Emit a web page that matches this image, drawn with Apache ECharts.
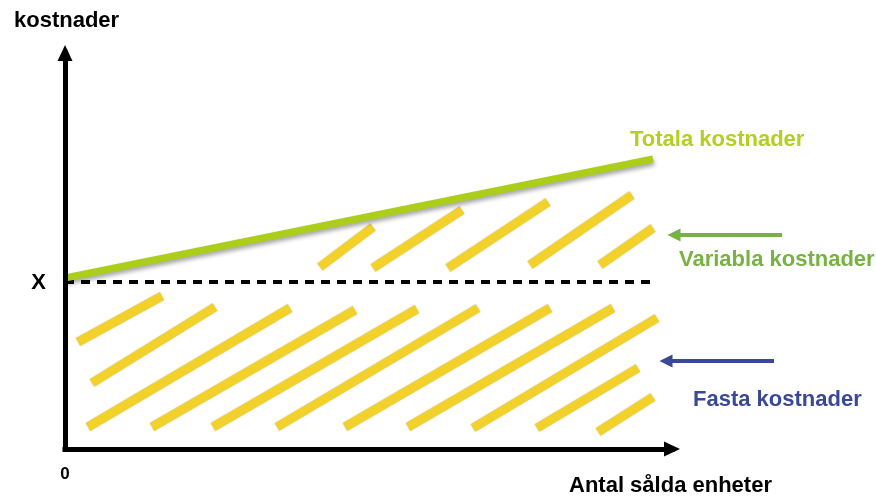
<!DOCTYPE html>
<html>
<head>
<meta charset="utf-8">
<script src="https://cdn.jsdelivr.net/npm/echarts@6/dist/echarts.min.js"></script>
<style>
html,body{margin:0;padding:0;background:#fff;}
#chart{width:876px;height:497px;}
</style>
</head>
<body>
<div id="chart"></div>
<script>
// Axis ranges (conceptual units)
const xRange = [0, 607];
const yRange = [0, 396];

// Fixed cost level (dashed line "X")
const fixedLevel = [[0, 167], [587, 167]];
// Total cost line
const totalLine = [[0, 171], [588, 290]];

// Hatch strokes below the fixed level (fasta kostnader)
const hatchFixed = [
  [[13, 107], [97, 153]],
  [[27, 66], [150, 142]],
  [[23, 22], [225, 141]],
  [[87, 22], [290, 139]],
  [[148, 22], [352, 140]],
  [[212, 22], [413, 141]],
  [[280, 22], [485, 141]],
  [[343, 22], [548, 141]],
  [[408, 21], [592, 131]],
  [[472, 21], [573, 81]],
  [[533, 17], [588, 52]]
];
// Hatch strokes between fixed level and total line (variabla kostnader)
const hatchVariable = [
  [[255, 182], [308, 222]],
  [[308, 181], [397, 239]],
  [[383, 181], [483, 247]],
  [[465, 184], [567, 254]],
  [[535, 184], [588, 221]]
];

// Pointer arrows [tail, head]
const variableArrow = [[717, 214], [609, 214]];
const fixedArrow = [[709, 88], [601, 88]];

// Text labels and their anchor points
const labelTexts = ['kostnader', 'Antal sålda enheter', 'Totala kostnader', 'Variabla kostnader', 'Fasta kostnader', 'X', '0'];
const labelAnchors = [[-51, 428], [504, -37], [565, 309], [614, 189], [628, 49], [-19, 166], [0, -25]];

const YELLOW = '#F2D12B';
const LIME = '#ADCD1B';
const LIME_TEXT = '#B2D020';
const GREEN = '#77B243';
const BLUE = '#3A4898';
const FONT = '"Liberation Sans", Arial, sans-serif';

const labelStyles = [
  {color: '#000', pos: 'right'},
  {color: '#000', pos: 'right'},
  {color: LIME_TEXT, pos: 'right'},
  {color: GREEN, pos: 'right'},
  {color: BLUE, pos: 'right'},
  {color: '#000', pos: 'left', size: 22},
  {color: '#000', pos: 'inside', size: 17}
];

function hatchSeries(list, name) {
  return {
    type: 'lines',
    name: name,
    coordinateSystem: 'cartesian2d',
    clip: false,
    silent: true,
    symbol: 'none',
    lineStyle: {color: YELLOW, width: 9, opacity: 1, cap: 'butt', shadowColor: 'rgba(140,130,90,0.45)', shadowBlur: 1.5},
    data: list.map(c => ({coords: c})),
    z: 2
  };
}

function arrowSeries(pts, color) {
  return {
    type: 'lines',
    coordinateSystem: 'cartesian2d',
    clip: false,
    silent: true,
    symbol: ['none', 'triangle'],
    symbolSize: 13,
    lineStyle: {color: color, width: 4, opacity: 1, curveness: 0},
    itemStyle: {color: color},
    data: [{coords: pts}],
    z: 4
  };
}

const chart = echarts.init(document.getElementById('chart'), null, {renderer: 'canvas'});
chart.setOption({
  animation: false,
  backgroundColor: '#fff',
  grid: {left: 65, right: 204, top: 53, bottom: 48, containLabel: false},
  xAxis: {
    type: 'value', min: xRange[0], max: xRange[1],
    splitLine: {show: false}, axisTick: {show: false}, axisLabel: {show: false},
    axisLine: {show: true, onZero: false, symbol: ['none', 'triangle'], symbolSize: [15, 16],
      lineStyle: {color: '#000', width: 5, cap: 'square'}},
    z: 10
  },
  yAxis: {
    type: 'value', min: yRange[0], max: yRange[1],
    splitLine: {show: false}, axisTick: {show: false}, axisLabel: {show: false},
    axisLine: {show: true, onZero: false, symbol: ['none', 'triangle'], symbolSize: [15, 16],
      lineStyle: {color: '#000', width: 5, cap: 'square'}},
    z: 10
  },
  series: [
    hatchSeries(hatchFixed, 'Fasta kostnader'),
    hatchSeries(hatchVariable, 'Variabla kostnader'),
    {
      type: 'line', name: 'fixed level', silent: true, showSymbol: false, clip: false,
      data: fixedLevel,
      lineStyle: {color: '#000', width: 4, type: [9, 7]},
      z: 3
    },
    {
      type: 'line', name: 'Totala kostnader', silent: true, showSymbol: false, clip: false,
      data: totalLine,
      lineStyle: {color: LIME, width: 7, cap: 'butt', shadowColor: 'rgba(0,0,0,0.35)', shadowBlur: 4, shadowOffsetX: 1, shadowOffsetY: 3},
      z: 5
    },
    arrowSeries(variableArrow, GREEN),
    arrowSeries(fixedArrow, BLUE),
    {
      type: 'scatter', silent: true, clip: false, symbolSize: 0,
      itemStyle: {opacity: 1},
      data: labelAnchors.map((p, i) => ({
        value: p,
        label: {
          show: true,
          formatter: labelTexts[i],
          position: labelStyles[i].pos,
          distance: 0,
          color: labelStyles[i].color,
          opacity: 1,
          fontFamily: FONT,
          fontWeight: 'bold',
          fontSize: labelStyles[i].size || 22
        }
      })),
      z: 6
    }
  ]
});
</script>
</body>
</html>
